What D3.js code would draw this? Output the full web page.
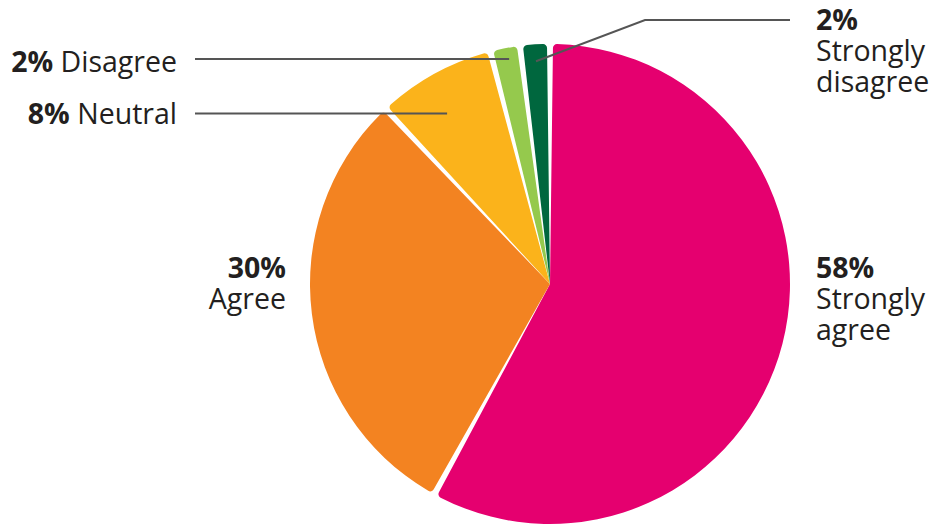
<!DOCTYPE html>
<html><head><meta charset="utf-8">
<script src="https://cdn.jsdelivr.net/npm/d3@7"></script>
<style>body{margin:0;background:#fff}svg{display:block}text{font-family:"Open Sans","Noto Sans",sans-serif;fill:#231f20}</style>
</head><body>
<svg id="c" width="929" height="528"></svg>
<script>
const categories = ["Strongly agree","Agree","Neutral","Disagree","Strongly disagree"];
const values = [58,30,8,2,2];
const colors = ["#E5006F","#F38321","#FBB31B","#95C94D","#00673E"];
const labelLines = [["Strongly","agree"],["Agree"],["Neutral"],["Disagree"],["Strongly","disagree"]];

const svg = d3.select("#c");
const cx = 550, cy = 284, R = 240;
const g = svg.append("g").attr("transform", `translate(${cx},${cy})`);
const pie = d3.pie().sort(null).value(d => d)(values);
const arc = d3.arc().innerRadius(0).outerRadius(R).padAngle(0.025).padRadius(R).cornerRadius(4);
g.selectAll("path").data(pie).enter().append("path")
  .attr("d", arc).attr("fill", (d,i) => colors[i]);

const fs = 28.5, lh = 31;
function block(x, y, anchor, pct, lines, inline) {
  const t = svg.append("text").attr("x", x).attr("y", y).attr("text-anchor", anchor).style("font-size", fs + "px");
  if (inline) {
    t.append("tspan").style("font-weight", 700).text(pct + "%");
    t.append("tspan").text(" " + lines.join(" "));
  } else {
    t.append("tspan").attr("x", x).style("font-weight", 700).text(pct + "%");
    lines.forEach(l => t.append("tspan").attr("x", x).attr("dy", lh).text(l));
  }
}
// leader line anchors: point at fraction of slice angle and fraction of radius
const la = (i, af, rf) => { const p = pie[i]; const a = p.startAngle + (p.endAngle - p.startAngle) * af; return [cx + Math.sin(a) * R * rf, cy - Math.cos(a) * R * rf]; };
const line = pts => svg.append("path").attr("d", d3.line()(pts)).attr("fill","none").attr("stroke","#555").attr("stroke-width",2);
const pD = la(3, 0.57, 0.953), pN = la(2, 0.42, 0.83), pS = la(4, 0.5, 0.93);
line([[195, pD[1]], pD]);
line([[195, pN[1]], pN]);
line([pS, [645, 20], [790, 20]]);

block(816, 278, "start", values[0], labelLines[0], false);
block(286, 278, "end", values[1], labelLines[1], false);
block(177, 124, "end", values[2], labelLines[2], true);
block(177, 72, "end", values[3], labelLines[3], true);
block(816, 30, "start", values[4], labelLines[4], false);
</script>
</body></html>
